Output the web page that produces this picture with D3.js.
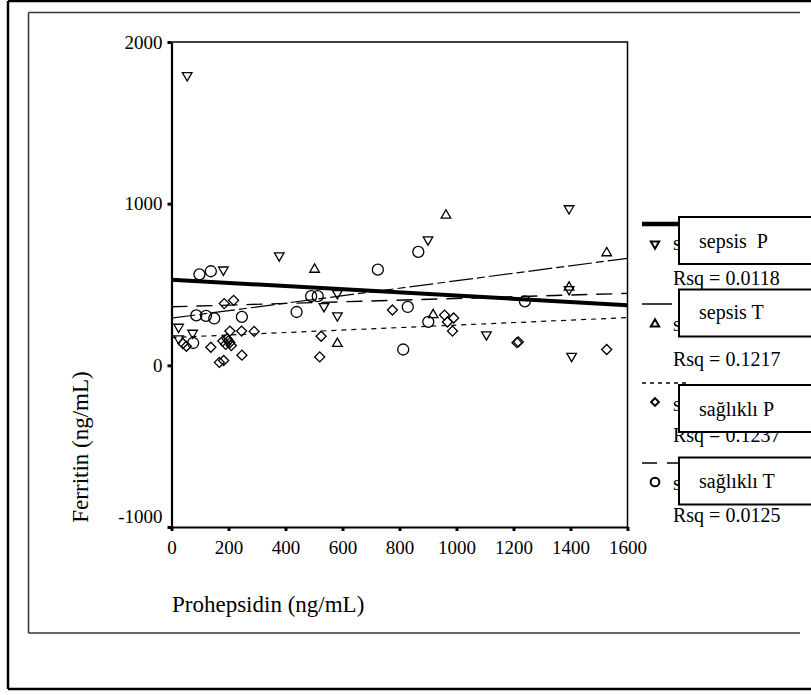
<!DOCTYPE html>
<html>
<head>
<meta charset="utf-8">
<script src="https://cdn.jsdelivr.net/npm/d3@7"></script>
<style>
body { margin: 0; background: #fff; }
svg text { font-family: "Liberation Serif", "Times New Roman", serif; fill: #000; }
</style>
</head>
<body>
<div class="chart"></div>
<script>
// values: [Prohepsidin, Ferritin]
const sepsisP = [[55,1793],[1395,970],[900,778],[378,679],[182,591],[25,237],[25,165],[74,200],
  [535,365],[582,307],[582,445],[1105,190],[1404,57],[1395,470]];
const sepsisT = [[963,928],[502,593],[1527,695],[582,134],[918,312],[1395,482]];
const saglikliP = [[185,382],[218,402],[205,212],[246,212],[290,210],[138,112],[180,150],[190,130],
  [195,165],[205,140],[210,122],[200,152],[168,18],[183,30],[247,63],[525,180],[520,52],[775,342],
  [958,311],[990,293],[968,268],[986,212],[1212,140],[1217,145],[1527,98],[40,135],[52,118]];
const saglikliT = [[98,563],[138,582],[87,309],[121,306],[150,290],[247,300],[76,138],[439,330],
  [490,428],[513,428],[724,592],[866,702],[829,361],[901,269],[813,98],[1240,396]];

// fit lines (end points)
const fitSepsisP = [[0,530],[1600,372]];
const fitSepsisT = [[0,292],[1600,662]];
const fitSaglikliP = [[0,172],[1600,295]];
const fitSaglikliT = [[0,362],[1600,445]];

const seriesNames = ["sepsis  P", "sepsis T", "sağlıklı P", "sağlıklı T"];
const rsqLabels = ["Rsq = 0.0118", "Rsq = 0.1217", "Rsq = 0.1237", "Rsq = 0.0125"];
const xTicks = [0,200,400,600,800,1000,1200,1400,1600];
const yTicks = [-1000,0,1000,2000];

const W = 811, H = 695;
const serif = "'Liberation Serif', 'Times New Roman', serif";
const svg = d3.select(".chart").append("svg")
  .attr("width", W).attr("height", H);

// outer frame and inner panel
const frame = svg.append("g").attr("fill", "none");
frame.append("path").attr("d", "M8,1H811M8,1V689M8,689H811")
  .attr("stroke", "#000").attr("stroke-width", 2.5);
frame.append("path").attr("d", "M28.5,12.5H800M28.5,12.5V633M28.5,633H800")
  .attr("stroke", "#333").attr("stroke-width", 1.5);

const x = d3.scaleLinear().domain([0, 1600]).range([171.5, 627.5]);
const y = d3.scaleLinear().domain([-1000, 2000]).range([527, 42]);

// plot box top/right
svg.append("path")
  .attr("d", `M${x(0)},${y(2000)}H${x(1600)}V${y(-1000)}`)
  .attr("fill", "none").attr("stroke", "#000").attr("stroke-width", 1.5);

const fmt = d => String(d);
const xAxis = svg.append("g")
  .attr("transform", `translate(0,${y(-1000)})`)
  .call(d3.axisBottom(x).tickValues(xTicks).tickFormat(fmt)
    .tickSize(4).tickSizeOuter(0).tickPadding(10))
  .attr("font-family", serif).attr("font-size", 19);
xAxis.select(".domain").attr("stroke-width", 2.2);
xAxis.selectAll(".tick line").attr("stroke-width", 3);

const yAxis = svg.append("g")
  .attr("transform", `translate(${x(0)},0)`)
  .call(d3.axisLeft(y).tickValues(yTicks).tickFormat(fmt)
    .tickSize(4).tickSizeOuter(0).tickPadding(5))
  .attr("font-family", serif).attr("font-size", 19);
yAxis.select(".domain").attr("stroke-width", 2.2);
yAxis.selectAll(".tick line").attr("stroke-width", 3);
yAxis.selectAll(".tick text")
  .attr("dy", d => d === -1000 ? "-0.23em" : "0.32em");

// axis titles
svg.append("text")
  .attr("x", 172).attr("y", 611.5)
  .style("font-size", "23px")
  .text("Prohepsidin (ng/mL)");
svg.append("text")
  .attr("transform", "translate(88,447) rotate(-90)")
  .attr("text-anchor", "middle")
  .style("font-size", "23px")
  .text("Ferritin (ng/mL)");

// fit lines
const line = d3.line().x(d => x(d[0])).y(d => y(d[1]));
const lineStyles = [
  { data: fitSepsisP, w: 4, dash: null },
  { data: fitSepsisT, w: 1.2, dash: "24,4,8,4" },
  { data: fitSaglikliP, w: 1.2, dash: "5,5" },
  { data: fitSaglikliT, w: 1.4, dash: "16,9" }
];
svg.append("g").selectAll("path")
  .data(lineStyles).enter()
  .append("path")
  .attr("d", d => line(d.data))
  .attr("fill", "none")
  .attr("stroke", "#000")
  .attr("stroke-width", d => d.w)
  .attr("stroke-dasharray", d => d.dash);

// markers
const tri = d3.symbol().type(d3.symbolTriangle).size(40);
const diamond = d3.symbol().type(d3.symbolSquare).size(50);
const circle = d3.symbol().type(d3.symbolCircle).size(95);
const markerDefs = [
  { data: sepsisP, path: tri(), rot: 180, legend: d3.symbol().type(d3.symbolTriangle).size(30)() },
  { data: sepsisT, path: tri(), rot: 0, legend: d3.symbol().type(d3.symbolTriangle).size(30)() },
  { data: saglikliP, path: diamond(), rot: 45, legend: d3.symbol().type(d3.symbolSquare).size(30)() },
  { data: saglikliT, path: circle(), rot: 0, legend: d3.symbol().type(d3.symbolCircle).size(60)() }
];
markerDefs.forEach(m => {
  svg.append("g").selectAll("path")
    .data(m.data).enter()
    .append("path")
    .attr("d", m.path)
    .attr("transform", d => `translate(${x(d[0])},${y(d[1])}) rotate(${m.rot})`)
    .attr("fill", "none")
    .attr("stroke", "#000")
    .attr("stroke-width", 1.3);
});

// legend
const legendRows = [
  { lineY: 224, markY: 244, textY: 250, rsqY: 285, boxY: 217, labelY: 248, x2: 680, dash: null, w: 4.5 },
  { lineY: 304, markY: 324, textY: 331, rsqY: 366, boxY: 289.5, labelY: 319, x2: 672, dash: null, w: 1.5 },
  { lineY: 383, markY: 402, textY: 411, rsqY: 442, boxY: 385, labelY: 416, x2: 686, dash: "4,4", w: 1.5 },
  { lineY: 463, markY: 482, textY: 490, rsqY: 522, boxY: 457.5, labelY: 488, x2: 686, dash: "15,10", w: 1.5 }
];
const legend = svg.append("g");
legendRows.forEach((r, i) => {
  legend.append("line")
    .attr("x1", 642).attr("x2", r.x2).attr("y1", r.lineY).attr("y2", r.lineY)
    .attr("stroke", "#000")
    .attr("stroke-width", r.w)
    .attr("stroke-dasharray", r.dash);
  legend.append("path")
    .attr("d", markerDefs[i].legend)
    .attr("transform", `translate(655,${r.markY}) rotate(${markerDefs[i].rot})`)
    .attr("fill", "none").attr("stroke", "#000").attr("stroke-width", 2);
  // only the first letter of the hidden entry text peeks out from behind the box
  legend.append("text")
    .attr("x", 673).attr("y", r.textY)
    .style("font-size", "20px")
    .text(seriesNames[i].charAt(0));
  legend.append("text")
    .attr("x", 673).attr("y", r.rsqY)
    .style("font-size", "20px")
    .text(rsqLabels[i]);
});
legendRows.forEach((r, i) => {
  legend.append("rect")
    .attr("x", 679).attr("y", r.boxY)
    .attr("width", 160).attr("height", 47)
    .attr("fill", "#fff").attr("stroke", "#000").attr("stroke-width", 2);
  legend.append("text")
    .attr("x", 699).attr("y", r.labelY)
    .style("font-size", "20px")
    .style("white-space", "pre")
    .text(seriesNames[i]);
});
</script>
</body>
</html>
